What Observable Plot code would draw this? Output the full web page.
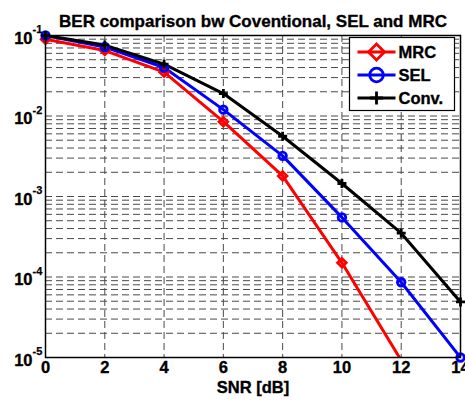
<!DOCTYPE html>
<html>
<head>
<meta charset="utf-8">
<script src="https://cdn.jsdelivr.net/npm/d3@7"></script>
<script src="https://cdn.jsdelivr.net/npm/@observablehq/plot@0.6"></script>
<style>
  html, body { margin: 0; padding: 0; background: #fff; }
  svg { display: block; }
</style>
</head>
<body>
<div id="chart"></div>
<script>
const titleText = "BER comparison bw Coventional, SEL and MRC";
const xLabel = "SNR [dB]";
const snr = [0, 2, 4, 6, 8, 10, 12, 14];
const berMRC = [0.09, 0.065, 0.035, 0.0085, 0.0018, 0.00015, 0.0000092];
const berSEL = [0.1, 0.072, 0.04, 0.012, 0.0032, 0.00055, 0.000086, 0.00001];
const berConv = [0.1, 0.076, 0.044, 0.019, 0.0056, 0.00145, 0.00035, 0.000049];
const yExponents = [-5, -4, -3, -2, -1];
const seriesNames = ["MRC", "SEL", "Conv."];
const seriesColors = ["#ff0000", "#0000ff", "#000000"];
const seriesSymbols = ["diamond2", "circle", "plus"];

const FONT = "'Liberation Sans', Arial, Helvetica, sans-serif";
const majorY = yExponents.map(e => Math.pow(10, e));
const minorY = [];
for (const e of yExponents.slice(0, -1)) for (let m = 2; m <= 9; m++) minorY.push(m * Math.pow(10, e));

const rows = [];
[berMRC, berSEL, berConv].forEach((arr, i) => arr.forEach((v, j) => rows.push({series: seriesNames[i], x: snr[j], y: v})));

const symR = {MRC: 7.2, SEL: 6.8, "Conv.": 4.3};
const gridStyle = {stroke: "#4a4a4a", strokeWidth: 1, strokeDasharray: "7,4"};
const txt = {fontWeight: "bold", fill: "#000", stroke: "#000", strokeWidth: 0.35};

const chart = Plot.plot({
  width: 465,
  height: 404,
  marginTop: 35,
  marginBottom: 47,
  marginLeft: 45,
  marginRight: 5,
  style: {fontFamily: FONT, background: "#fff", overflow: "visible"},
  x: {domain: [0, 14], axis: null},
  y: {type: "log", domain: [1e-5, 1e-1], axis: null},
  color: {domain: seriesNames, range: seriesColors},
  symbol: {domain: seriesNames, range: seriesSymbols},
  marks: [
    Plot.ruleY(minorY, {y: d => d, ...gridStyle}),
    Plot.ruleY(majorY, {y: d => d, ...gridStyle}),
    Plot.ruleX(snr, {x: d => d, ...gridStyle}),
    Plot.line(rows, {x: "x", y: "y", z: "series", stroke: "series", strokeWidth: 3, clip: true}),
    Plot.dot(rows.filter(d => d.y >= 1e-5), {x: "x", y: "y", stroke: "series", symbol: "series", r: d => symR[d.series], strokeWidth: 2.8, fill: "none"}),
    Plot.frame({stroke: "#000", strokeWidth: 1.5}),
    Plot.text(snr, {x: d => d, text: d => String(d), frameAnchor: "bottom", dy: 15, fontSize: 16.5, ...txt}),
    Plot.text(majorY, {y: d => d, text: () => "10", frameAnchor: "left", dx: -13, dy: 3, textAnchor: "end", fontSize: 16.5, ...txt}),
    Plot.text(yExponents, {y: e => Math.pow(10, e), text: e => String(e), frameAnchor: "left", dx: -13, dy: -6, textAnchor: "start", fontSize: 11, ...txt, strokeWidth: 0.25}),
    Plot.text([titleText], {frameAnchor: "top", dy: -21, fontSize: 17, ...txt}),
    Plot.text([xLabel], {frameAnchor: "bottom", dy: 35, fontSize: 16.5, ...txt})
  ]
});
document.getElementById("chart").appendChild(chart);

// Legend box (MATLAB style) in the top-right corner of the plot area
const svg = d3.select(chart);
const legend = svg.append("g").attr("transform", "translate(349.5,37.5)").attr("font-family", FONT);
legend.append("rect").attr("width", 105).attr("height", 73).attr("fill", "#fff").attr("stroke", "#000").attr("stroke-width", 1.2);
seriesNames.forEach((name, i) => {
  const cy = 14.5 + i * 23;
  const g = legend.append("g").attr("transform", `translate(0,${cy})`);
  g.append("line").attr("x1", 8).attr("x2", 46).attr("y1", 0).attr("y2", 0).attr("stroke", seriesColors[i]).attr("stroke-width", 3);
  const sym = seriesSymbols[i] === "diamond2" ? d3.symbolDiamond2 : seriesSymbols[i] === "circle" ? d3.symbolCircle : d3.symbolPlus;
  const r = symR[name];
  g.append("path").attr("transform", "translate(27,0)")
    .attr("d", d3.symbol(sym, r * r * Math.PI)())
    .attr("fill", "none").attr("stroke", seriesColors[i]).attr("stroke-width", 2.8);
  g.append("text").attr("x", 49).attr("dy", "0.36em").attr("text-anchor", "start")
    .style("font-size", "16.5px").style("font-weight", "bold")
    .attr("fill", "#000").attr("stroke", "#000").attr("stroke-width", 0.35).text(name);
});
</script>
</body>
</html>
